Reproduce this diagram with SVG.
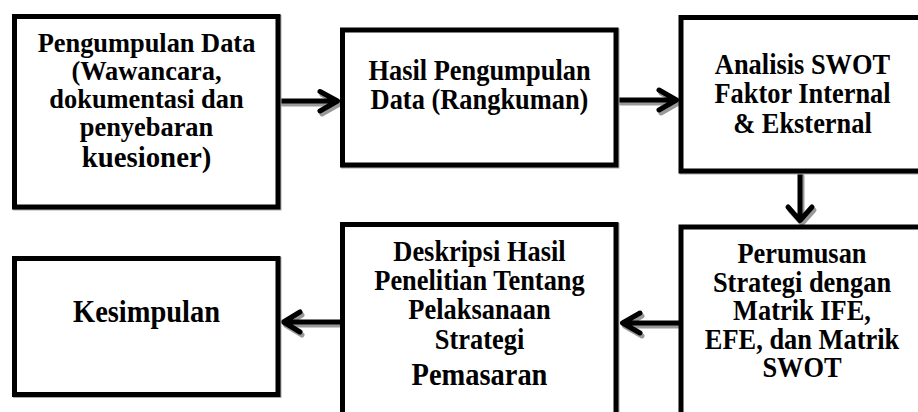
<svg xmlns="http://www.w3.org/2000/svg" width="918" height="412" viewBox="0 0 918 412">
<style>
.box{fill:#fff;stroke:#000;stroke-width:5}
.sh{fill:none;stroke:#aaa;stroke-width:5}
.t{font-family:"Liberation Serif","Times New Roman",serif;font-weight:bold;font-size:28.4px;fill:#000;text-anchor:middle}
.s1{font-size:27.5px}
.big{font-size:30.6px}
.b1{font-size:30px}
.ln{fill:none;stroke:#000;stroke-width:5;stroke-linecap:round;stroke-linejoin:round}
.lns{fill:none;stroke:#999;stroke-width:5;stroke-linecap:round;stroke-linejoin:round}
</style>
<rect width="918" height="412" fill="#fff"/>
<g id="connectors">
  <g transform="translate(2,3)">
    <path class="lns" d="M281,101 H337 M320,91.5 L337.5,101 L320,111"/>
    <path class="lns" d="M619,100 H676 M659,90 L676.5,100 L659,110"/>
    <path class="lns" d="M800,173 V220 M788,207 L800,220.5 L812,207"/>
    <path class="lns" d="M679,323 H623 M640,313 L622.5,323 L640,333"/>
    <path class="lns" d="M340,322 H284 M300,312 L283.5,322 L300,332"/>
  </g>
  <path class="ln" d="M281,101 H337 M320,91.5 L337.5,101 L320,111"/>
  <path class="ln" d="M619,100 H676 M659,90 L676.5,100 L659,110"/>
  <path class="ln" d="M800,173 V220 M788,207 L800,220.5 L812,207"/>
  <path class="ln" d="M679,323 H623 M640,313 L622.5,323 L640,333"/>
  <path class="ln" d="M340,322 H284 M300,312 L283.5,322 L300,332"/>
</g>
<g id="n1">
  <rect class="sh" x="15.5" y="17.5" width="263.5" height="190.5"/>
  <rect class="box" x="14.5" y="16.5" width="263.5" height="190.5"/>
  <g transform="translate(146.5 0) scale(0.96 1)">
    <text class="t s1" x="0" y="52.5">Pengumpulan Data</text>
    <text class="t s1" x="0" y="80.5">(Wawancara,</text>
    <text class="t s1" x="0" y="108.5">dokumentasi dan</text>
    <text class="t s1" x="0" y="136.5">penyebaran</text>
    <text class="t b1" x="0" y="167.5">kuesioner)</text>
  </g>
</g>
<g id="n2">
  <rect class="sh" x="343.5" y="31" width="273.5" height="135"/>
  <rect class="box" x="342.5" y="30" width="273.5" height="135"/>
  <g transform="translate(479.5 0) scale(0.93 1)">
    <text class="t" x="0" y="80">Hasil Pengumpulan</text>
    <text class="t" x="0" y="109">Data (Rangkuman)</text>
  </g>
</g>
<g id="n3">
  <rect class="sh" x="682" y="18.5" width="250" height="153.5"/>
  <rect class="box" x="681" y="17.5" width="250" height="153.5"/>
  <g transform="translate(802.5 0) scale(0.93 1)">
    <text class="t" x="0" y="74">Analisis SWOT</text>
    <text class="t" x="0" y="103.5">Faktor Internal</text>
    <text class="t" x="0" y="133">&amp; Eksternal</text>
  </g>
</g>
<g id="n4">
  <rect class="sh" x="682" y="228" width="250" height="200"/>
  <rect class="box" x="681" y="227" width="250" height="200"/>
  <g transform="translate(802 0) scale(0.93 1)">
    <text class="t" x="0" y="263">Perumusan</text>
    <text class="t" x="0" y="292">Strategi dengan</text>
    <text class="t" x="0" y="320.5">Matrik IFE,</text>
    <text class="t" x="0" y="349">EFE, dan Matrik</text>
    <text class="t" x="0" y="377.5">SWOT</text>
  </g>
</g>
<g id="n5">
  <rect class="sh" x="343.5" y="225.5" width="273.5" height="200"/>
  <rect class="box" x="342.5" y="224.5" width="273.5" height="200"/>
  <g transform="translate(479.5 0) scale(0.93 1)">
    <text class="t" x="0" y="261">Deskripsi Hasil</text>
    <text class="t" x="0" y="290">Penelitian Tentang</text>
    <text class="t" x="0" y="319">Pelaksanaan</text>
    <text class="t" x="0" y="349">Strategi</text>
    <text class="t big" x="0" y="385">Pemasaran</text>
  </g>
</g>
<g id="n6">
  <rect class="sh" x="15.5" y="259.5" width="263.5" height="136"/>
  <rect class="box" x="14.5" y="258.5" width="263.5" height="136"/>
  <g transform="translate(146.5 0) scale(0.93 1)">
    <text class="t big" x="0" y="322">Kesimpulan</text>
  </g>
</g>
</svg>
